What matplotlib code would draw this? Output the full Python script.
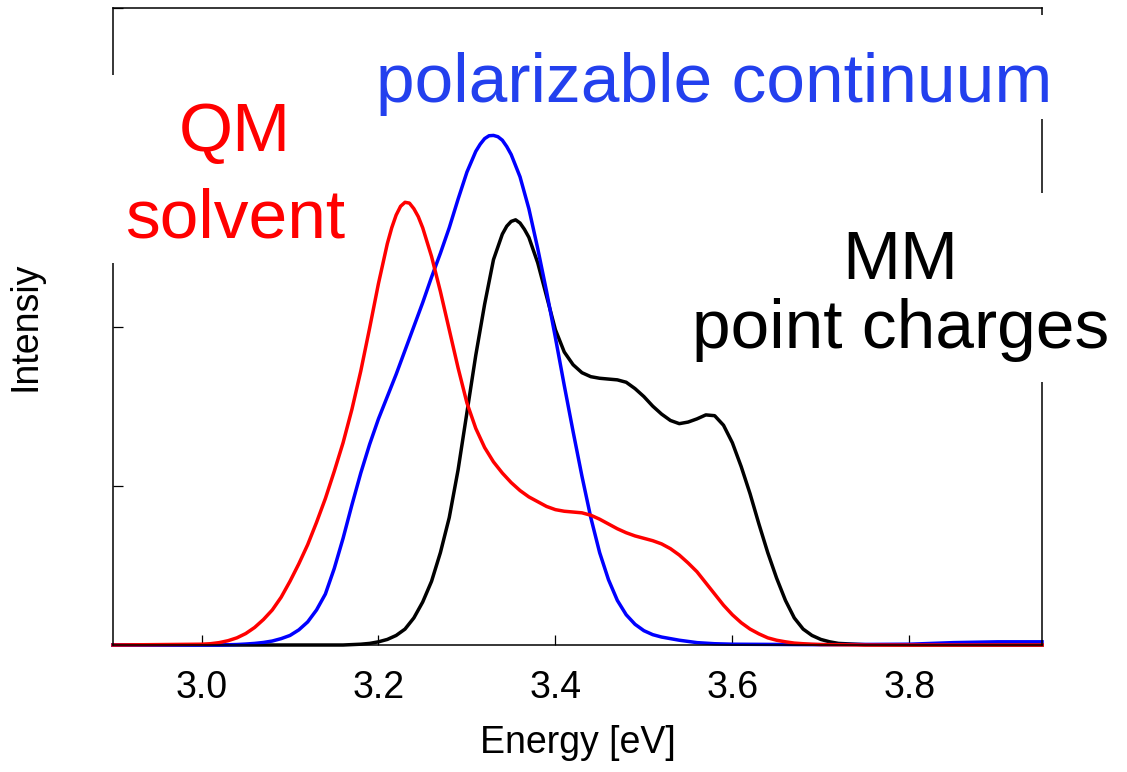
import matplotlib
matplotlib.use("Agg")
import matplotlib.pyplot as plt
from matplotlib.patches import Rectangle

plt.rcParams['font.family'] = ['Liberation Sans', 'DejaVu Sans']

# QM solvent (red)
qm_energy = [2.90, 3.00, 3.01, 3.02, 3.03, 3.04, 3.05, 3.06, 3.07, 3.08, 3.09,
             3.10, 3.11, 3.12, 3.13, 3.14, 3.15, 3.16, 3.17, 3.18, 3.19,
             3.20, 3.21, 3.215, 3.22, 3.225, 3.23, 3.235, 3.24, 3.245, 3.25,
             3.26, 3.27, 3.28, 3.29,
             3.30, 3.31, 3.32, 3.33, 3.34, 3.35, 3.36, 3.37, 3.38, 3.39,
             3.40, 3.41, 3.42, 3.43, 3.44, 3.45, 3.46, 3.47, 3.48, 3.49,
             3.50, 3.51, 3.52, 3.53, 3.54, 3.55, 3.56, 3.57, 3.58, 3.59,
             3.60, 3.61, 3.62, 3.63, 3.64, 3.65, 3.66, 3.67, 3.68, 3.69,
             3.70, 3.75, 3.95]
qm_int = [0.0, 0.005, 0.008, 0.015, 0.027, 0.045, 0.072, 0.11, 0.16, 0.22, 0.30,
          0.40, 0.51, 0.63, 0.77, 0.92, 1.09, 1.27, 1.48, 1.72, 1.99,
          2.27, 2.52, 2.62, 2.70, 2.755, 2.78, 2.775, 2.74, 2.69, 2.62,
          2.44, 2.22, 1.98, 1.74,
          1.52, 1.36, 1.24, 1.15, 1.08, 1.02, 0.97, 0.93, 0.90, 0.87,
          0.85, 0.84, 0.835, 0.83, 0.815, 0.79, 0.76, 0.73, 0.705, 0.685,
          0.67, 0.655, 0.635, 0.605, 0.565, 0.515, 0.46, 0.39, 0.32, 0.25,
          0.19, 0.14, 0.10, 0.07, 0.045, 0.03, 0.02, 0.012, 0.008, 0.005,
          0.003, 0.0, 0.0]

# polarizable continuum (blue)
pcm_energy = [2.90, 3.02, 3.04, 3.05, 3.06, 3.07, 3.08, 3.09,
              3.10, 3.11, 3.12, 3.13, 3.14, 3.15, 3.16, 3.17, 3.18, 3.19,
              3.20, 3.21, 3.22, 3.23, 3.24, 3.25, 3.26, 3.27, 3.28, 3.29,
              3.30, 3.31, 3.315, 3.32, 3.325, 3.33, 3.335, 3.34, 3.345, 3.35,
              3.36, 3.37, 3.38, 3.39,
              3.40, 3.41, 3.42, 3.43, 3.44, 3.45, 3.46, 3.47, 3.48, 3.49,
              3.50, 3.51, 3.52, 3.53, 3.54, 3.56, 3.58, 3.60, 3.70, 3.80,
              3.85, 3.90, 3.95]
pcm_int = [0.0, 0.0, 0.003, 0.006, 0.01, 0.016, 0.025, 0.04,
           0.06, 0.095, 0.145, 0.22, 0.32, 0.48, 0.67, 0.88, 1.08, 1.26,
           1.42, 1.56, 1.70, 1.85, 2.00, 2.15, 2.31, 2.46, 2.62, 2.80,
           2.97, 3.10, 3.145, 3.18, 3.198, 3.20, 3.192, 3.17, 3.13, 3.08,
           2.94, 2.74, 2.49, 2.22,
           1.93, 1.63, 1.34, 1.06, 0.80, 0.58, 0.41, 0.28, 0.19, 0.13,
           0.09, 0.065, 0.05, 0.04, 0.03, 0.015, 0.008, 0.005, 0.002, 0.005,
           0.015, 0.02, 0.02]

# MM point charges (black)
mm_energy = [2.90, 3.16, 3.18, 3.19,
             3.20, 3.21, 3.22, 3.23, 3.24, 3.25, 3.26, 3.27, 3.28, 3.29,
             3.30, 3.31, 3.32, 3.33, 3.34, 3.345, 3.35, 3.355, 3.36, 3.365,
             3.37, 3.38, 3.39,
             3.40, 3.41, 3.42, 3.43, 3.44, 3.45, 3.46, 3.47, 3.48, 3.49,
             3.50, 3.51, 3.52, 3.53, 3.54, 3.55, 3.56, 3.57, 3.58, 3.59,
             3.60, 3.61, 3.62, 3.63, 3.64, 3.65, 3.66, 3.67, 3.68, 3.69,
             3.70, 3.71, 3.72, 3.75, 3.80, 3.95]
mm_int = [0.0, 0.0, 0.005, 0.01,
          0.02, 0.035, 0.06, 0.10, 0.17, 0.27, 0.40, 0.58, 0.80, 1.10,
          1.46, 1.82, 2.14, 2.42, 2.58, 2.63, 2.66, 2.67, 2.65, 2.61,
          2.56, 2.40, 2.19,
          1.98, 1.84, 1.76, 1.71, 1.685, 1.675, 1.67, 1.665, 1.65, 1.61,
          1.56, 1.50, 1.45, 1.41, 1.39, 1.40, 1.42, 1.445, 1.44, 1.38,
          1.27, 1.12, 0.95, 0.76, 0.58, 0.42, 0.28, 0.17, 0.10, 0.06,
          0.035, 0.02, 0.01, 0.002, 0.0, 0.0]

x_ticks = [3.0, 3.2, 3.4, 3.6, 3.8]
y_ticks = [0, 1, 2, 3, 4]

fig = plt.figure(figsize=(11.27, 7.72), dpi=100)
ax = fig.add_axes([0.1003, 0.1645, 0.8243, 0.8251])

ax.plot(mm_energy, mm_int, color='black', lw=2.5, clip_on=False)
ax.plot(pcm_energy, pcm_int, color='blue', lw=2.5, clip_on=False)
ax.plot(qm_energy, qm_int, color='red', lw=2.5, clip_on=False)

ax.set_xlim(2.9, 3.95)
ax.set_ylim(0, 4)
ax.set_xticks(x_ticks)
ax.set_yticks(y_ticks)
ax.tick_params(direction='in', length=7.2, width=0.9, labelsize=27, pad=18,
               labelleft=False)
for s in ax.spines.values():
    s.set_linewidth(1.1)

ax.set_xlabel('Energy [eV]', fontsize=27)
ax.set_ylabel('Intensiy', fontsize=27)
ax.xaxis.set_label_coords(0.5, -0.125)
ax.yaxis.set_label_coords(-0.075, 0.5)

# labels (va='baseline' -> baseline of the last line)
ax.text(3.58, 3.411, 'polarizable continuum', color='#2340ee', fontsize=50,
        ha='center', va='baseline', zorder=4)
ax.text(3.038, 2.558, 'QM\nsolvent', color='red', fontsize=50,
        ha='center', va='baseline', linespacing=1.45, zorder=4)
ax.text(3.79, 1.862, 'MM\npoint charges', color='black', fontsize=50,
        ha='center', va='baseline', linespacing=1.11, zorder=4)

# white gaps in the frame behind the labels
for x0, w, y0, y1 in [(-0.01, 0.025, 0.5997, 0.8948),
                      (0.99, 0.02, 0.8257, 0.989),
                      (0.99, 0.02, 0.4129, 0.7096)]:
    ax.add_patch(Rectangle((x0, y0), w, y1 - y0, transform=ax.transAxes,
                           facecolor='white', edgecolor='none', clip_on=False, zorder=2.8))

fig.savefig('out.png', dpi=100)
